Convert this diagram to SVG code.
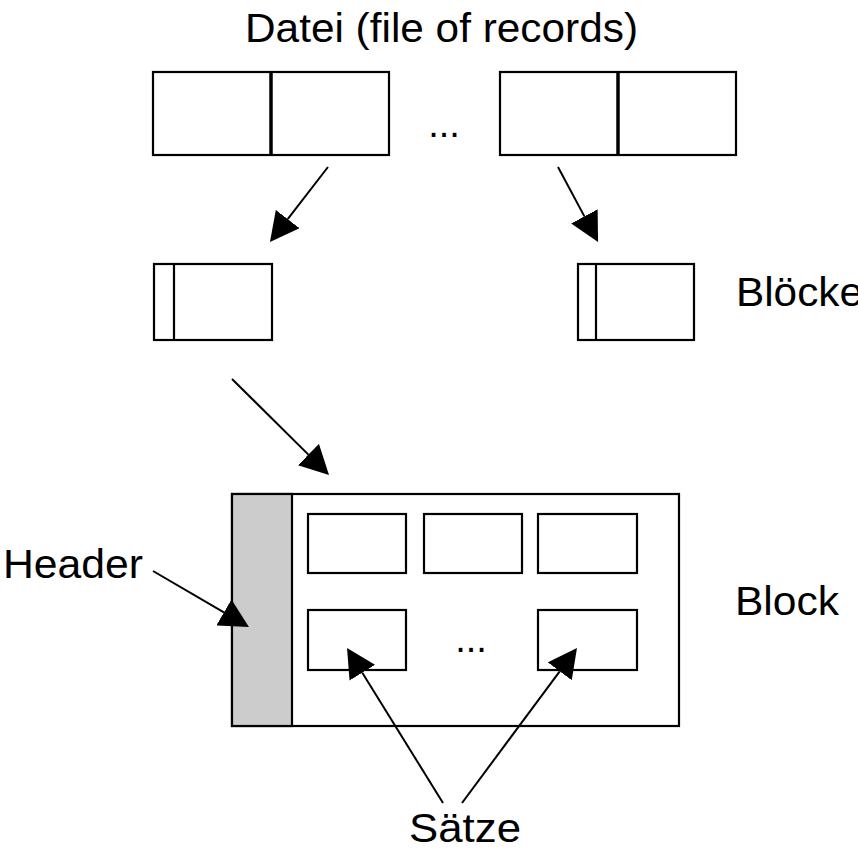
<svg xmlns="http://www.w3.org/2000/svg" width="858" height="850" viewBox="0 0 858 850">
<style>
.box{fill:#fff;stroke:#000;stroke-width:2.2}
.div{stroke:#000;stroke-width:2.2}
.thick{stroke:#000;stroke-width:3.5}
.lbl{font-family:"Liberation Sans",Arial,sans-serif;font-size:40px;fill:#000}
.dots{font-family:"Liberation Sans",Arial,sans-serif;font-size:38px;fill:#000;text-anchor:middle}
.con{stroke:#000;stroke-width:2;fill:none;marker-end:url(#ah)}
</style>
<defs>
<marker id="ah" markerUnits="userSpaceOnUse" markerWidth="29" markerHeight="30" viewBox="0 0 29 30" refX="0" refY="15" orient="auto">
<path d="M0,0 L29,15 L0,30 Z" fill="#000"/>
</marker>
</defs>
<rect width="858" height="850" fill="#fff"/>
<text class="lbl" x="245" y="42" textLength="393" lengthAdjust="spacingAndGlyphs">Datei (file of records)</text>
<g id="file1">
<rect class="box" x="153" y="72" width="236" height="83"/>
<line class="thick" x1="271" y1="72" x2="271" y2="155"/>
</g>
<text class="dots" x="444" y="137">...</text>
<g id="file2">
<rect class="box" x="500" y="72" width="236" height="83"/>
<line class="thick" x1="618" y1="72" x2="618" y2="155"/>
</g>
<g id="block1">
<rect class="box" x="154" y="264" width="118" height="76"/>
<line class="div" x1="174" y1="264" x2="174" y2="340"/>
</g>
<g id="block2">
<rect class="box" x="578" y="264" width="116" height="76"/>
<line class="div" x1="596" y1="264" x2="596" y2="340"/>
</g>
<text class="lbl" x="736" y="306" textLength="127" lengthAdjust="spacingAndGlyphs">Blöcke</text>
<g id="block">
<rect class="box" x="232" y="494" width="447" height="232"/>
<rect x="232" y="494" width="60" height="232" fill="#cccccc" stroke="#000" stroke-width="2.2"/>
<rect class="box" x="308" y="514" width="98" height="59"/>
<rect class="box" x="424" y="514" width="98" height="59"/>
<rect class="box" x="538" y="514" width="99" height="59"/>
<rect class="box" x="308" y="610" width="98" height="60"/>
<rect class="box" x="538" y="610" width="99" height="60"/>
<text class="dots" x="471" y="652">...</text>
</g>
<text class="lbl" x="735" y="615" textLength="104" lengthAdjust="spacingAndGlyphs">Block</text>
<text class="lbl" x="3" y="578" textLength="140" lengthAdjust="spacingAndGlyphs">Header</text>
<text class="lbl" x="409" y="842" textLength="112" lengthAdjust="spacingAndGlyphs">Sätze</text>
<g id="connectors">
<line class="con" x1="328" y1="167" x2="287.7" y2="219.1"/>
<line class="con" x1="558" y1="167" x2="584.4" y2="216.4"/>
<line class="con" x1="232" y1="379" x2="308.4" y2="454.6"/>
<line class="con" x1="153" y1="571" x2="223.9" y2="612.4"/>
<line class="con" x1="443" y1="803" x2="362.3" y2="672.7"/>
<line class="con" x1="462" y1="803" x2="559.7" y2="671.3"/>
</g>
</svg>
